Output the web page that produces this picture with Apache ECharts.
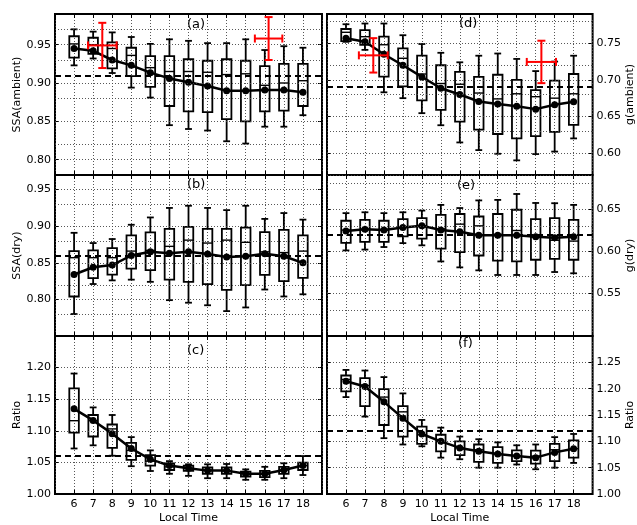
<!DOCTYPE html>
<html>
<head>
<meta charset="utf-8">
<script src="https://cdn.jsdelivr.net/npm/echarts@6/dist/echarts.min.js"></script>
<style>
html,body{margin:0;padding:0;background:#fff;}
#chart{width:637px;height:525px;}
</style>
</head>
<body>
<div id="chart"></div>
<script>
// ---------------- DATA ----------------
const hours = [6, 7, 8, 9, 10, 11, 12, 13, 14, 15, 16, 17, 18];
const xTickLabels = ['6','7','8','9','10','11','12','13','14','15','16','17','18'];

// (a) SSA(ambient)
const ssaAmbLow    = [0.923, 0.932, 0.913, 0.894, 0.881, 0.845, 0.840, 0.838, 0.824, 0.821, 0.843, 0.843, 0.858];
const ssaAmbQ1     = [0.933, 0.938, 0.919, 0.909, 0.895, 0.870, 0.863, 0.862, 0.853, 0.850, 0.863, 0.864, 0.870];
const ssaAmbMedian = [0.951, 0.950, 0.945, 0.936, 0.920, 0.915, 0.915, 0.914, 0.911, 0.912, 0.897, 0.900, 0.903];
const ssaAmbQ3     = [0.961, 0.959, 0.953, 0.946, 0.935, 0.935, 0.931, 0.929, 0.931, 0.929, 0.922, 0.925, 0.925];
const ssaAmbHigh   = [0.970, 0.967, 0.966, 0.960, 0.951, 0.957, 0.955, 0.952, 0.952, 0.957, 0.943, 0.948, 0.946];
const ssaAmbMean   = [0.945, 0.942, 0.930, 0.923, 0.9135, 0.906, 0.901, 0.896, 0.890, 0.890, 0.891, 0.891, 0.888];
const ssaAmbRef    = 0.908;
const ssaAmbCrossX = [7.48, 16.2];
const ssaAmbCrossY = [0.949, 0.958];
const ssaAmbCrossXErr = [0.75, 0.72];
const ssaAmbCrossYErr = [0.0295, 0.028];

// (b) SSA(dry)
const ssaDryLow    = [0.780, 0.821, 0.826, 0.827, 0.824, 0.799, 0.7955, 0.792, 0.784, 0.789, 0.8135, 0.804, 0.807];
const ssaDryQ1     = [0.804, 0.829, 0.834, 0.842, 0.840, 0.827, 0.824, 0.821, 0.813, 0.8195, 0.8335, 0.825, 0.8295];
const ssaDryMedian = [0.857, 0.857, 0.857, 0.866, 0.867, 0.8725, 0.881, 0.877, 0.881, 0.878, 0.865, 0.864, 0.866];
const ssaDryQ3     = [0.866, 0.867, 0.870, 0.8875, 0.8915, 0.8965, 0.899, 0.8965, 0.8965, 0.898, 0.892, 0.895, 0.8875];
const ssaDryHigh   = [0.891, 0.877, 0.8825, 0.902, 0.912, 0.925, 0.928, 0.925, 0.922, 0.928, 0.910, 0.918, 0.909];
const ssaDryMean   = [0.834, 0.844, 0.847, 0.860, 0.865, 0.863, 0.865, 0.862, 0.858, 0.859, 0.8625, 0.859, 0.850];
const ssaDryRef    = 0.856;

// (c) SSA ratio
const ssaRatioLow    = [1.072, 1.077, 1.0606, 1.044, 1.0364, 1.032, 1.0287, 1.025, 1.025, 1.0225, 1.0225, 1.025, 1.030];
const ssaRatioQ1     = [1.097, 1.091, 1.073, 1.054, 1.045, 1.038, 1.0366, 1.032, 1.032, 1.0277, 1.0266, 1.032, 1.038];
const ssaRatioMedian = [1.116, 1.116, 1.103, 1.069, 1.052, 1.043, 1.0407, 1.038, 1.0366, 1.032, 1.0313, 1.038, 1.045];
const ssaRatioQ3     = [1.167, 1.125, 1.110, 1.081, 1.0615, 1.0486, 1.045, 1.042, 1.042, 1.0355, 1.0366, 1.043, 1.0496];
const ssaRatioHigh   = [1.1906, 1.137, 1.125, 1.090, 1.069, 1.052, 1.047, 1.047, 1.0475, 1.039, 1.043, 1.0486, 1.060];
const ssaRatioMean   = [1.1347, 1.1164, 1.0955, 1.072, 1.0548, 1.045, 1.0407, 1.037, 1.037, 1.032, 1.032, 1.038, 1.045];
const ssaRatioRef    = 1.061;

// (d) g(ambient)
const gAmbLow    = [0.752, 0.741, 0.683, 0.675, 0.6545, 0.638, 0.6145, 0.604, 0.599, 0.590, 0.5986, 0.602, 0.620];
const gAmbQ1     = [0.753, 0.748, 0.7045, 0.691, 0.672, 0.659, 0.643, 0.632, 0.626, 0.620, 0.623, 0.629, 0.6385];
const gAmbMedian = [0.765, 0.759, 0.748, 0.7295, 0.708, 0.695, 0.694, 0.682, 0.674, 0.681, 0.677, 0.675, 0.681];
const gAmbQ3     = [0.7695, 0.768, 0.759, 0.743, 0.733, 0.720, 0.711, 0.704, 0.707, 0.700, 0.686, 0.699, 0.708];
const gAmbHigh   = [0.776, 0.777, 0.777, 0.761, 0.749, 0.737, 0.724, 0.733, 0.736, 0.7286, 0.712, 0.725, 0.733];
const gAmbMean   = [0.757, 0.752, 0.735, 0.720, 0.704, 0.6886, 0.680, 0.6705, 0.667, 0.664, 0.660, 0.666, 0.670];
const gAmbRef    = 0.695;
const gAmbCrossX = [7.44, 16.3];
const gAmbCrossY = [0.7335, 0.7245];
const gAmbCrossXErr = [0.76, 0.77];
const gAmbCrossYErr = [0.0235, 0.029];

// (e) g(dry)
const gDryLow    = [0.601, 0.602, 0.605, 0.6096, 0.607, 0.588, 0.581, 0.5775, 0.572, 0.572, 0.572, 0.5755, 0.574];
const gDryQ1     = [0.610, 0.611, 0.611, 0.6175, 0.615, 0.603, 0.599, 0.595, 0.589, 0.588, 0.590, 0.591, 0.590];
const gDryMedian = [0.625, 0.626, 0.625, 0.629, 0.630, 0.6265, 0.632, 0.630, 0.620, 0.6245, 0.617, 0.613, 0.612];
const gDryQ3     = [0.636, 0.637, 0.636, 0.638, 0.639, 0.643, 0.644, 0.641, 0.644, 0.649, 0.638, 0.639, 0.637];
const gDryHigh   = [0.645, 0.646, 0.645, 0.646, 0.648, 0.6547, 0.651, 0.660, 0.6606, 0.6676, 0.657, 0.6567, 0.6547];
const gDryMean   = [0.624, 0.626, 0.625, 0.628, 0.630, 0.625, 0.623, 0.619, 0.619, 0.619, 0.617, 0.616, 0.617];
const gDryRef    = 0.6225;

// (f) g ratio
const gRatioLow    = [1.184, 1.147, 1.106, 1.094, 1.0906, 1.069, 1.066, 1.050, 1.050, 1.056, 1.047, 1.050, 1.059];
const gRatioQ1     = [1.195, 1.167, 1.131, 1.109, 1.095, 1.081, 1.074, 1.061, 1.059, 1.0625, 1.0575, 1.0625, 1.069];
const gRatioMedian = [1.2175, 1.206, 1.184, 1.156, 1.1125, 1.100, 1.0875, 1.084, 1.076, 1.072, 1.072, 1.084, 1.086];
const gRatioQ3     = [1.225, 1.220, 1.199, 1.167, 1.128, 1.1125, 1.100, 1.094, 1.089, 1.083, 1.0825, 1.095, 1.102];
const gRatioHigh   = [1.2356, 1.2344, 1.222, 1.191, 1.1406, 1.126, 1.109, 1.104, 1.098, 1.0925, 1.094, 1.108, 1.114];
const gRatioMean   = [1.214, 1.204, 1.175, 1.144, 1.114, 1.100, 1.0875, 1.081, 1.076, 1.072, 1.069, 1.079, 1.086];
const gRatioRef    = 1.1156;

// axis tick values
const ssaAmbTicks   = [0.80, 0.85, 0.90, 0.95];
const ssaAmbGrid    = [0.80, 0.825, 0.85, 0.875, 0.90, 0.925, 0.95, 0.975];
const ssaDryTicks   = [0.80, 0.85, 0.90, 0.95];
const ssaDryGrid    = [0.775, 0.80, 0.825, 0.85, 0.875, 0.90, 0.925, 0.95];
const ssaRatioTicks = [1.00, 1.05, 1.10, 1.15, 1.20];
const ssaRatioGrid  = [1.05, 1.10, 1.15, 1.20];
const gAmbTicks     = [0.60, 0.65, 0.70, 0.75];
const gAmbGrid      = [0.575, 0.60, 0.625, 0.65, 0.675, 0.70, 0.725, 0.75, 0.775];
const gDryTicks     = [0.55, 0.60, 0.65];
const gDryGrid      = [0.525, 0.55, 0.575, 0.60, 0.625, 0.65, 0.675];
const gRatioTicks   = [1.00, 1.05, 1.10, 1.15, 1.20, 1.25];
const gRatioGrid    = [1.05, 1.10, 1.15, 1.20, 1.25];

// ---------------- LAYOUT / BUILD ----------------
const FONT = 'DejaVu Sans';
const panels = [
  {lab:'(a)', name:'SSA(ambient)', col:0, row:0, min:0.78, max:0.99, ticks:ssaAmbTicks, grid:ssaAmbGrid,
   low:ssaAmbLow, q1:ssaAmbQ1, med:ssaAmbMedian, q3:ssaAmbQ3, high:ssaAmbHigh, mean:ssaAmbMean, ref:ssaAmbRef,
   cx:ssaAmbCrossX, cy:ssaAmbCrossY, cxe:ssaAmbCrossXErr, cye:ssaAmbCrossYErr, labPos:[198,26]},
  {lab:'(b)', name:'SSA(dry)', col:0, row:1, min:0.75, max:0.97, ticks:ssaDryTicks, grid:ssaDryGrid,
   low:ssaDryLow, q1:ssaDryQ1, med:ssaDryMedian, q3:ssaDryQ3, high:ssaDryHigh, mean:ssaDryMean, ref:ssaDryRef, labPos:[198,186]},
  {lab:'(c)', name:'Ratio', col:0, row:2, min:1.00, max:1.25, ticks:ssaRatioTicks, grid:ssaRatioGrid,
   low:ssaRatioLow, q1:ssaRatioQ1, med:ssaRatioMedian, q3:ssaRatioQ3, high:ssaRatioHigh, mean:ssaRatioMean, ref:ssaRatioRef, labPos:[198,352]},
  {lab:'(d)', name:'g(ambient)', col:1, row:0, min:0.57, max:0.79, ticks:gAmbTicks, grid:gAmbGrid,
   low:gAmbLow, q1:gAmbQ1, med:gAmbMedian, q3:gAmbQ3, high:gAmbHigh, mean:gAmbMean, ref:gAmbRef,
   cx:gAmbCrossX, cy:gAmbCrossY, cxe:gAmbCrossXErr, cye:gAmbCrossYErr, labPos:[470,25]},
  {lab:'(e)', name:'g(dry)', col:1, row:1, min:0.50, max:0.69, ticks:gDryTicks, grid:gDryGrid,
   low:gDryLow, q1:gDryQ1, med:gDryMedian, q3:gDryQ3, high:gDryHigh, mean:gDryMean, ref:gDryRef, labPos:[468,187]},
  {lab:'(f)', name:'Ratio', col:1, row:2, min:1.00, max:1.30, ticks:gRatioTicks, grid:gRatioGrid,
   low:gRatioLow, q1:gRatioQ1, med:gRatioMedian, q3:gRatioQ3, high:gRatioHigh, mean:gRatioMean, ref:gRatioRef, labPos:[469,345]}
];

const colLeft = [55, 327], colWidth = [267, 268];
const rowTop = [14, 175, 336], rowHeight = 161;
const BOX_W = 0.5, CAP_W = 0.36;

const grids = [], xAxes = [], yAxes = [], series = [], graphics = [];
const gridDotted = {color:'#444', width:0.9, type:[1,2]};

function boxRender(params, api) {
  const x = api.value(0);
  const pLo = api.coord([x, api.value(1)]);
  const pQ1 = api.coord([x, api.value(2)]);
  const pMed = api.coord([x, api.value(3)]);
  const pQ3 = api.coord([x, api.value(4)]);
  const pHi = api.coord([x, api.value(5)]);
  const half = api.size([BOX_W, 0])[0] / 2;
  const cap = api.size([CAP_W, 0])[0] / 2;
  const cx = pQ1[0];
  const st = {stroke:'#000', lineWidth:1.8, fill:null};
  return {type:'group', children:[
    {type:'line', shape:{x1:cx, y1:pLo[1], x2:cx, y2:pQ1[1]}, style:st},
    {type:'line', shape:{x1:cx, y1:pQ3[1], x2:cx, y2:pHi[1]}, style:st},
    {type:'line', shape:{x1:cx-cap, y1:pLo[1], x2:cx+cap, y2:pLo[1]}, style:st},
    {type:'line', shape:{x1:cx-cap, y1:pHi[1], x2:cx+cap, y2:pHi[1]}, style:st},
    {type:'rect', shape:{x:cx-half, y:pQ3[1], width:2*half, height:pQ1[1]-pQ3[1]},
     style:{stroke:'#000', lineWidth:1.8, fill:'rgba(0,0,0,0)'}},
    {type:'line', shape:{x1:cx-half, y1:pMed[1], x2:cx+half, y2:pMed[1]}, style:{stroke:'#000', lineWidth:1.4}}
  ]};
}

function crossRender(params, api) {
  const x = api.value(0), y = api.value(1), xe = api.value(2), ye = api.value(3);
  const pL = api.coord([x - xe, y]), pR = api.coord([x + xe, y]);
  const pT = api.coord([x, y + ye]), pB = api.coord([x, y - ye]);
  const c = 4;
  const st = {stroke:'#ff0000', lineWidth:2, fill:null};
  return {type:'group', children:[
    {type:'line', shape:{x1:pL[0], y1:pL[1], x2:pR[0], y2:pR[1]}, style:st},
    {type:'line', shape:{x1:pT[0], y1:pT[1], x2:pB[0], y2:pB[1]}, style:st},
    {type:'line', shape:{x1:pL[0], y1:pL[1]-c, x2:pL[0], y2:pL[1]+c}, style:st},
    {type:'line', shape:{x1:pR[0], y1:pR[1]-c, x2:pR[0], y2:pR[1]+c}, style:st},
    {type:'line', shape:{x1:pT[0]-c, y1:pT[1], x2:pT[0]+c, y2:pT[1]}, style:st},
    {type:'line', shape:{x1:pB[0]-c, y1:pB[1], x2:pB[0]+c, y2:pB[1]}, style:st}
  ]};
}

panels.forEach((p, i) => {
  grids.push({left:colLeft[p.col], top:rowTop[p.row], width:colWidth[p.col], height:rowHeight,
    show:true, borderColor:'#000', borderWidth:2, backgroundColor:'transparent'});
  const bottomRow = p.row === 2;
  // main x axis (bottom)
  xAxes.push({gridIndex:i, type:'value', position:'bottom', min:5, max:19, interval:1,
    axisLine:{show:false},
    axisTick:{show:true, inside:true, length:4, lineStyle:{color:'#000', width:1}},
    splitLine:{show:true, lineStyle:gridDotted},
    axisLabel:{show:bottomRow, margin:5, color:'#000', fontFamily:FONT, fontSize:11,
      formatter: v => { const k = hours.indexOf(v); return k >= 0 ? xTickLabels[k] : ''; }},
    name: bottomRow ? 'Local Time' : '', nameLocation:'middle', nameGap:19,
    nameTextStyle:{color:'#000', fontFamily:FONT, fontSize:11}
  });
  // mirrored x axis (top) for ticks
  xAxes.push({gridIndex:i, type:'value', position:'top', min:5, max:19, interval:1,
    axisLine:{show:false}, axisLabel:{show:false}, splitLine:{show:false},
    axisTick:{show:true, inside:true, length:4, lineStyle:{color:'#000', width:1}}
  });
  const side = p.col === 0 ? 'left' : 'right';
  const other = p.col === 0 ? 'right' : 'left';
  yAxes.push({gridIndex:i, type:'value', position:side, min:p.min, max:p.max,
    axisLine:{show:false}, splitLine:{show:false},
    axisTick:{show:true, inside:true, length:4, customValues:p.ticks, lineStyle:{color:'#000', width:1}},
    axisLabel:{show:true, customValues:p.ticks, margin:4, color:'#000', fontFamily:FONT, fontSize:11,
      formatter: v => v.toFixed(2)},
    name:p.name, nameLocation:'middle', nameGap:32, nameRotate:90,
    nameTextStyle:{color:'#000', fontFamily:FONT, fontSize:11}
  });
  yAxes.push({gridIndex:i, type:'value', position:other, min:p.min, max:p.max,
    axisLine:{show:false}, splitLine:{show:false}, axisLabel:{show:false},
    axisTick:{show:true, inside:true, length:4, customValues:p.ticks, lineStyle:{color:'#000', width:1}}
  });
  const xi = 2*i, yi = 2*i;
  // boxes
  series.push({type:'custom', xAxisIndex:xi, yAxisIndex:yi, renderItem:boxRender, z:3,
    encode:{x:0, y:[1,2,3,4,5]},
    data: hours.map((h, k) => [h, p.low[k], p.q1[k], p.med[k], p.q3[k], p.high[k]])});
  // mean line with grid lines & reference line as markLines
  const gridMarks = p.grid.map(v => ({yAxis:v, lineStyle:gridDotted}));
  gridMarks.push({yAxis:p.ref, lineStyle:{color:'#000', width:2, type:[6,4]}});
  series.push({type:'line', xAxisIndex:xi, yAxisIndex:yi, z:4,
    data: hours.map((h, k) => [h, p.mean[k]]),
    symbol:'circle', symbolSize:7, showSymbol:true,
    itemStyle:{color:'#000'}, lineStyle:{color:'#000', width:2.5},
    markLine:{silent:true, symbol:['none','none'], label:{show:false}, animation:false, data:gridMarks}
  });
  if (p.cx) {
    series.push({type:'custom', xAxisIndex:xi, yAxisIndex:yi, renderItem:crossRender, z:6,
      encode:{x:0, y:1},
      data: p.cx.map((x, k) => [x, p.cy[k], p.cxe[k], p.cye[k]])});
  }
  graphics.push({type:'text', left:p.labPos[0]-11, top:p.labPos[1]-8, z:10,
    style:{text:p.lab, fill:'#000', font:'13px "DejaVu Sans"'}});
});

const chart = echarts.init(document.getElementById('chart'), null, {renderer:'canvas'});
chart.setOption({
  animation:false,
  backgroundColor:'#fff',
  grid:grids, xAxis:xAxes, yAxis:yAxes, series:series, graphic:graphics
});
</script>
</body>
</html>
